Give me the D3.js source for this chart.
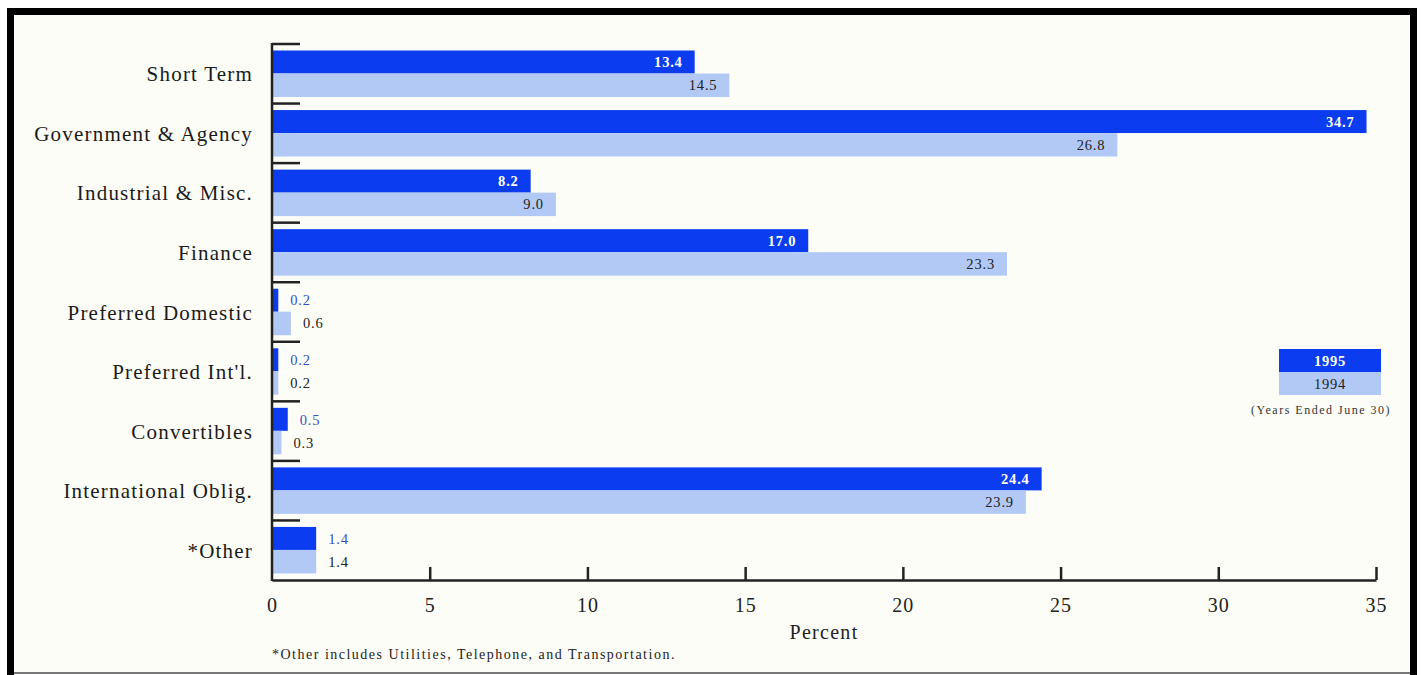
<!DOCTYPE html>
<html>
<head>
<meta charset="utf-8">
<script src="https://cdn.jsdelivr.net/npm/d3@7"></script>
<style>
  html, body { margin: 0; padding: 0; background: #ffffff; }
  svg { display: block; }
  text { font-family: "Liberation Serif", "DejaVu Serif", serif; }
</style>
</head>
<body>
<svg id="chart" width="1421" height="675"></svg>
<script>
// Portfolio composition by sector, percent of holdings
const categories = [
  "Short Term", "Government & Agency", "Industrial & Misc.", "Finance",
  "Preferred Domestic", "Preferred Int'l.", "Convertibles",
  "International Oblig.", "*Other"
];
const values1995 = [13.4, 34.7, 8.2, 17.0, 0.2, 0.2, 0.5, 24.4, 1.4];
const values1994 = [14.5, 26.8, 9.0, 23.3, 0.6, 0.2, 0.3, 23.9, 1.4];
const seriesNames = ["1995", "1994"];
const xTicks = [0, 5, 10, 15, 20, 25, 30, 35];

const dark = "#0b3cf0";
const light = "#b3c9f5";

const svg = d3.select("#chart");

// Panel background and frame
svg.append("rect").attr("x", 11).attr("y", 11).attr("width", 1402).attr("height", 662)
  .attr("fill", "#fdfdf7");
svg.append("path")
  .attr("d", "M10.5,675 V11.5 H1413.5 V675")
  .attr("fill", "none").attr("stroke", "#000").attr("stroke-width", 7);
svg.append("line").attr("x1", 14).attr("x2", 1410).attr("y1", 673).attr("y2", 673)
  .attr("stroke", "#777").attr("stroke-width", 2);

const x = d3.scaleLinear().domain([0, 35]).range([272, 1376]);
const y = d3.scaleBand().domain(categories).range([44, 580]).padding(0);
const barH = 23;
const barOff = 6.5;

const g = svg.append("g");

// Category tick marks along the left axis
g.selectAll(".ytick").data(categories).join("line")
  .attr("x1", x(0)).attr("x2", x(0) + 28)
  .attr("y1", d => y(d)).attr("y2", d => y(d))
  .attr("stroke", "#222").attr("stroke-width", 2.5);

// Bars: 1995 (dark) then 1994 (light)
const rows = categories.map((c, i) => ({ c, v95: values1995[i], v94: values1994[i] }));

g.selectAll(".b95").data(rows).join("rect")
  .attr("x", x(0)).attr("y", d => y(d.c) + barOff)
  .attr("width", d => x(d.v95) - x(0)).attr("height", barH)
  .attr("fill", dark);
g.selectAll(".b94").data(rows).join("rect")
  .attr("x", x(0)).attr("y", d => y(d.c) + barOff + barH)
  .attr("width", d => x(d.v94) - x(0)).attr("height", barH + 0.5)
  .attr("fill", light);

// Value labels: inside bar end for wide bars, beside it for narrow ones
const inside = v => v >= 5;
g.selectAll(".l95").data(rows).join("text")
  .attr("x", d => inside(d.v95) ? x(d.v95) - 12 : x(d.v95) + 12)
  .attr("y", d => y(d.c) + barOff + barH / 2)
  .attr("dy", "0.36em")
  .attr("text-anchor", d => inside(d.v95) ? "end" : "start")
  .attr("font-size", 14.5)
  .attr("letter-spacing", 0.8)
  .attr("font-weight", d => inside(d.v95) ? "bold" : "normal")
  .attr("fill", d => inside(d.v95) ? "#ffffff" : "#3550c0")
  .text(d => d.v95.toFixed(1));
g.selectAll(".l94").data(rows).join("text")
  .attr("x", d => inside(d.v94) ? x(d.v94) - 12 : x(d.v94) + 12)
  .attr("y", d => y(d.c) + barOff + barH + barH / 2)
  .attr("dy", "0.36em")
  .attr("text-anchor", d => inside(d.v94) ? "end" : "start")
  .attr("font-size", 14.5)
  .attr("letter-spacing", 0.8)
  .attr("fill", "#222")
  .text(d => d.v94.toFixed(1));

// Category labels
g.selectAll(".cat").data(categories).join("text")
  .attr("x", 253)
  .attr("y", d => y(d) + 30)
  .attr("dy", "0.35em")
  .attr("text-anchor", "end")
  .attr("font-size", 21)
  .attr("letter-spacing", 1.2)
  .attr("fill", "#1a1a1a")
  .text(d => d);

// Left axis line
g.append("line").attr("x1", x(0)).attr("x2", x(0))
  .attr("y1", 43).attr("y2", 581)
  .attr("stroke", "#222").attr("stroke-width", 2.5);

// Bottom axis
const xAxis = d3.axisBottom(x).tickValues(xTicks).tickSize(0).tickPadding(0)
  .tickFormat(d3.format("d"));
const ax = g.append("g").attr("transform", `translate(0,580)`).call(xAxis);
ax.select(".domain").attr("stroke", "#222").attr("stroke-width", 2.5);
ax.selectAll(".tick line").remove();
ax.selectAll(".tick text")
  .attr("y", 25).attr("dy", "0.35em")
  .attr("font-size", 20).attr("letter-spacing", 1).attr("fill", "#222")
  .style("font-family", "'Liberation Serif', serif");
// Upward tick marks
ax.selectAll(".tick").filter(d => d > 0).append("line")
  .attr("y1", 0).attr("y2", -13)
  .attr("stroke", "#222").attr("stroke-width", 2.5);

svg.append("text").attr("x", 824).attr("y", 632).attr("dy", "0.35em")
  .attr("text-anchor", "middle").attr("font-size", 20).attr("letter-spacing", 1.3)
  .attr("fill", "#222")
  .text("Percent");

svg.append("text").attr("x", 272).attr("y", 654).attr("dy", "0.35em")
  .attr("font-size", 14).attr("letter-spacing", 1.5).attr("fill", "#222")
  .text("*Other includes Utilities, Telephone, and Transportation.");

// Legend
const lg = svg.append("g");
const legendFill = [dark, light];
const legendText = ["#ffffff", "#222"];
seriesNames.forEach((s, i) => {
  lg.append("rect").attr("x", 1279).attr("y", 349 + i * 23)
    .attr("width", 102).attr("height", 23).attr("fill", legendFill[i]);
  lg.append("text").attr("x", 1330).attr("y", 349 + i * 23 + 11.5).attr("dy", "0.36em")
    .attr("text-anchor", "middle").attr("font-size", 14.5).attr("letter-spacing", 0.8)
    .attr("font-weight", i === 0 ? "bold" : "normal")
    .attr("fill", legendText[i]).text(s);
});
lg.append("text").attr("x", 1321).attr("y", 410).attr("dy", "0.35em")
  .attr("text-anchor", "middle").attr("font-size", 12).attr("letter-spacing", 1.5)
  .attr("fill", "#333")
  .text("(Years Ended June 30)");
</script>
</body>
</html>
